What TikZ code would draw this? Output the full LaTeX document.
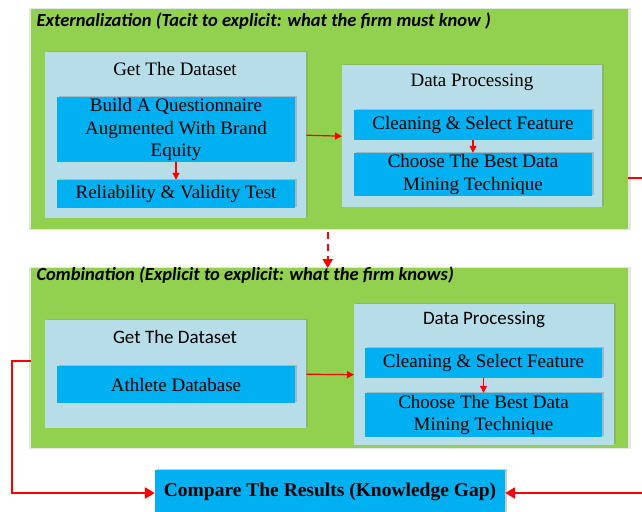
\documentclass[tikz,border=0pt]{standalone}
\usepackage{fontspec}
\setmainfont{Liberation Serif}
\newfontfamily\calibri{Carlito}
\usetikzlibrary{arrows.meta,shadows,positioning}

\definecolor{panelgreen}{HTML}{92D050}
\definecolor{stagecyan}{HTML}{B7DEE8}
\definecolor{taskblue}{HTML}{00B0F0}

\tikzset{
  panel/.style={fill=panelgreen, anchor=north west, inner sep=0pt,
    general shadow={fill=black, opacity=0.1, shadow scale=1.008}},
  stage/.style={fill=stagecyan, anchor=north west, inner sep=0pt,
    drop shadow={shadow xshift=1.5pt, shadow yshift=1.5pt, opacity=0.3}},
  task/.style={fill=taskblue, inner sep=0pt, align=center,
    font=\fontsize{19}{22.5}\selectfont,
    drop shadow={shadow xshift=1.5pt, shadow yshift=1.5pt, opacity=0.4}},
  paneltitle/.style={anchor=west, font=\calibri\bfseries\itshape\fontsize{18.5}{20}\selectfont},
  stagetitle/.style={font=\fontsize{19}{20}\selectfont},
  flow/.style={red, line width=1.2pt, -{Triangle[length=7pt,width=7pt]}},
  bigflow/.style={red, line width=2.4pt, -{Triangle[length=10pt,width=11pt]}}
}

\begin{document}
\begin{tikzpicture}[x=1pt,y=-1pt]
  \clip (0,0) rectangle (642,511);

  % externalization
  \node[panel, minimum width=597pt, minimum height=220pt] (ext) at (31,9) {};
  \node[paneltitle] (exttitle) at (33,21) {Externalization (Tacit to explicit: what the firm must know )};

  \node[stage, minimum width=261pt, minimum height=166pt] (get1) at (45,52) {};
  \node[stagetitle] (get1title) at (175,69) {Get The Dataset};
  \node[task, minimum width=238pt, minimum height=65pt] (build) at (176,129.5)
    {Build A Questionnaire\\Augmented With Brand\\Equity};
  \node[task, minimum width=238pt, minimum height=28pt] (reli) at (176,194) {Reliability \& Validity Test};

  \node[stage, minimum width=260pt, minimum height=142pt] (dp1) at (342,65) {};
  \node[stagetitle] (dp1title) at (472,82) {Data Processing};
  \node[task, minimum width=238pt, minimum height=30pt] (clean1) at (473,125) {Cleaning \& Select Feature};
  \node[task, minimum width=238pt, minimum height=43pt] (choose1) at (473,174.5)
    {Choose The Best Data\\Mining Technique};

  % combination
  \node[panel, minimum width=597pt, minimum height=180pt] (comb) at (31,268) {};
  \node[paneltitle] (combtitle) at (33,275) {Combination (Explicit to explicit: what the firm knows)};

  \node[stage, minimum width=261pt, minimum height=108pt] (get2) at (45,320) {};
  \node[stagetitle, font=\calibri\fontsize{19}{20}\selectfont] (get2title) at (175,337) {Get The Dataset};
  \node[task, minimum width=238pt, minimum height=37pt] (athlete) at (176,384.5) {Athlete Database};

  \node[stage, minimum width=260pt, minimum height=141pt] (dp2) at (354,304) {};
  \node[stagetitle, font=\calibri\fontsize{19}{20}\selectfont] (dp2title) at (484,320) {Data Processing};
  \node[task, minimum width=237pt, minimum height=30pt] (clean2) at (483.5,363) {Cleaning \& Select Feature};
  \node[task, minimum width=237pt, minimum height=44pt] (choose2) at (483.5,415)
    {Choose The Best Data\\Mining Technique};

  \node[task, minimum width=350pt, minimum height=46pt, font=\bfseries\fontsize{19.5}{22}\selectfont,
    text depth=6pt] (compare) at (330,493) {Compare The Results (Knowledge Gap)};

  % arrows
  \draw[flow] (build) -- (reli);
  \draw[flow] (get1.east) -- (dp1.west);
  \draw[flow] (clean1) -- (choose1);
  \draw[flow] (get2.east) -- (dp2.west);
  \draw[flow] (clean2) -- (choose2);
  \draw[red, line width=2pt, dashed, dash pattern=on 7pt off 5pt,
    -{Triangle[length=9pt,width=10pt]}] (ext.south) ++(-2,3) -- ([xshift=-2pt]comb.north);
  \draw[bigflow] ([yshift=-3pt]comb.west) -- ++(-19,0) |- (compare.west);
  \draw[bigflow] ([yshift=-59pt]ext.east) -- ++(20,0) |- (compare.east);
\end{tikzpicture}
\end{document}
